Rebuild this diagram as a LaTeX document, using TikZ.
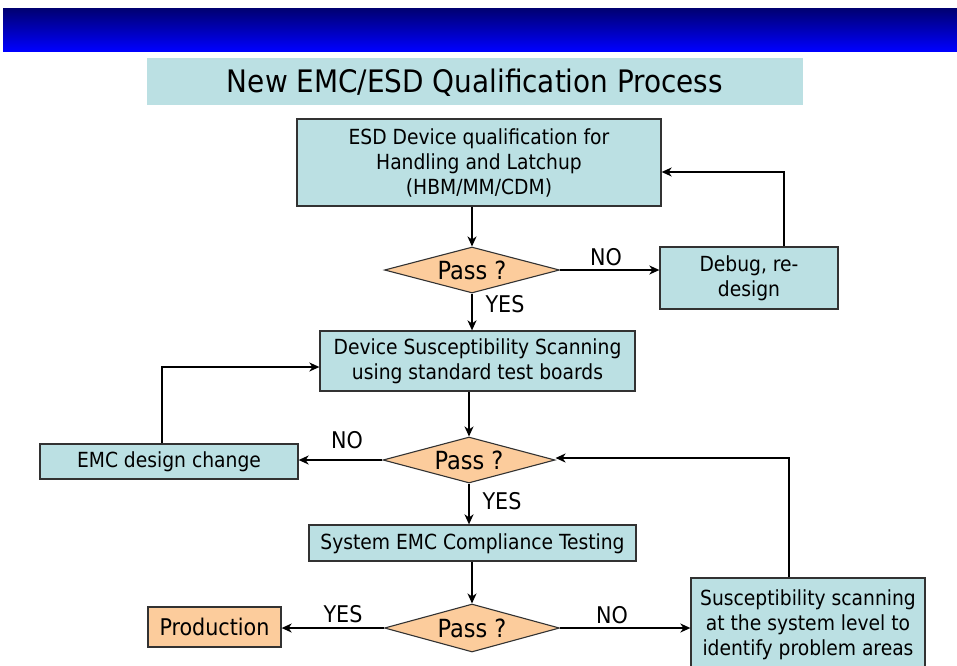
\documentclass[tikz,border=0pt]{standalone}
\usepackage{fontspec}
\setmainfont{DejaVu Sans Condensed}
\usetikzlibrary{shapes.geometric,arrows.meta}
\definecolor{boxfill}{RGB}{187,224,227}
\definecolor{decfill}{RGB}{252,204,156}
\definecolor{edge}{RGB}{50,50,50}
\definecolor{navytop}{RGB}{0,0,112}
\definecolor{bluebot}{RGB}{0,0,255}

\begin{document}
\begin{tikzpicture}[x=1pt,y=-1pt,
  every node/.style={font=\fontsize{20.8}{25}\selectfont, text=black},
  stepbox/.style={draw=edge, line width=1.3pt, fill=boxfill, rectangle, align=center, inner sep=0pt},
  decision/.style={draw=edge, line width=1.1pt, fill=decfill, diamond, inner sep=0pt, aspect=3.8,
                   font=\fontsize{25}{28}\selectfont},
  lbl/.style={inner sep=0pt, font=\fontsize{23}{26}\selectfont},
  flow/.style={line width=1.4pt, -{Stealth[length=10pt,width=9pt,inset=3pt]}}
]
\useasboundingbox (0,0) rectangle (957,665);

% header bar and title
\shade[top color=navytop, bottom color=bluebot] (3,8) rectangle (957,51);
\node[fill=boxfill, minimum width=656pt, minimum height=47pt, inner sep=0pt,
      text depth=2pt, font=\fontsize{31}{34}\selectfont] (title) at (475,81.5) {New EMC/ESD Qualification Process};

% process steps
\node[stepbox, minimum width=364pt, minimum height=87pt] (esd) at (479,162.5)
  {ESD Device qualification for\\Handling and Latchup\\(HBM/MM/CDM)};
\node[decision, minimum width=175pt, minimum height=46pt] (p1) at (472,270) {Pass ?};
\node[stepbox, minimum width=178pt, minimum height=62pt] (debug) at (749,278) {Debug, re-\\design};

\node[stepbox, minimum width=315pt, minimum height=60pt] (scan) at (477.5,361)
  {Device Susceptibility Scanning\\using standard test boards};
\node[decision, minimum width=172pt, minimum height=46pt] (p2) at (469,460) {Pass ?};
\node[stepbox, minimum width=258pt, minimum height=35pt] (emc) at (169,461.5) {EMC design change};

\node[stepbox, minimum width=327pt, minimum height=36pt, text depth=2pt] (sys) at (472.5,543) {System EMC Compliance Testing};
\node[decision, minimum width=175pt, minimum height=48pt] (p3) at (472,628) {Pass ?};
\node[stepbox, fill=decfill, minimum width=133pt, minimum height=40pt,
      font=\fontsize{23}{26}\selectfont] (prod) at (214.5,627) {Production};
\node[stepbox, minimum width=234pt, minimum height=93pt] (susc) at (808,624.5)
  {Susceptibility scanning\\at the system level to\\identify problem areas};

% connectors
\draw[flow] (esd.south -| p1.north) -- (p1.north);
\draw[flow] (p1.east) -- (debug.west |- p1.east);
\coordinate (dbtop) at (784,172);
\draw[flow] (debug.north -| dbtop) -- (dbtop) -- (esd.east |- dbtop);
\draw[flow] (p1.south) -- (scan.north -| p1.south);

\draw[flow] (scan.south -| p2.north) -- (p2.north);
\draw[flow] (p2.west) -- (emc.east |- p2.west);
\coordinate (emctop) at (162,367);
\draw[flow] (emc.north -| emctop) -- (emctop) -- (scan.west |- emctop);
\draw[flow] (p2.south) -- (sys.north -| p2.south);

\draw[flow] (sys.south -| p3.north) -- (p3.north);
\draw[flow] (p3.west) -- (prod.east |- p3.west);
\draw[flow] (p3.east) -- (susc.west |- p3.east);
\coordinate (sctop) at (789,458);
\draw[flow] (susc.north -| sctop) -- (sctop) -- (p2.east |- sctop);

% branch labels
\node[lbl] (no1) at (606,257) {NO};
\node[lbl] (yes1) at (505,304) {YES};
\node[lbl] (no2) at (347,440) {NO};
\node[lbl] (yes2) at (502,501) {YES};
\node[lbl] (yes3) at (343,614) {YES};
\node[lbl] (no3) at (612,615) {NO};
\end{tikzpicture}
\end{document}
